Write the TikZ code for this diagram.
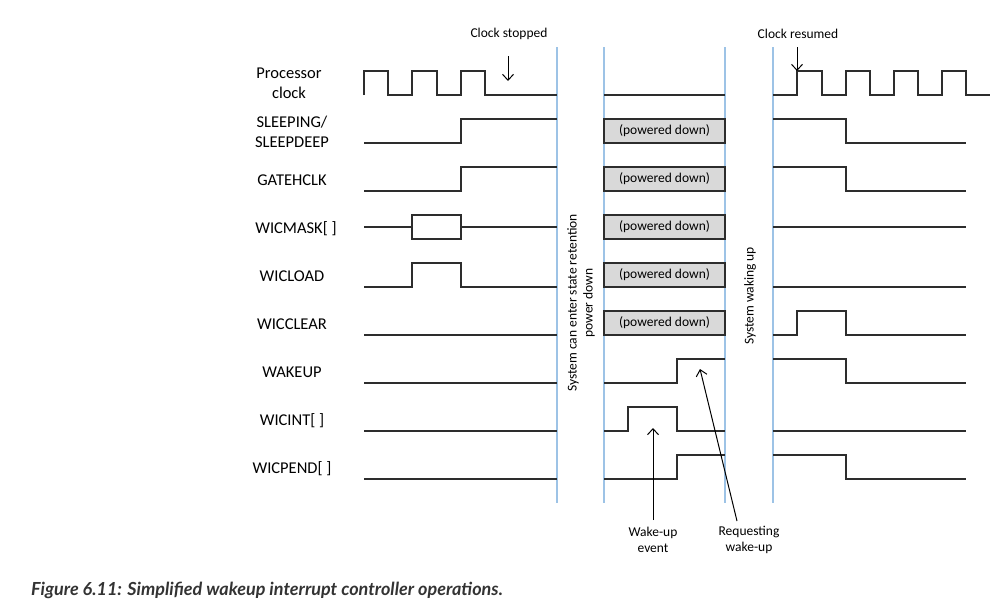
\documentclass[tikz,border=0pt]{standalone}
\usepackage{fontspec}
\setmainfont{Carlito}
\newfontfamily\capfont{Lato}
\usetikzlibrary{arrows.meta, positioning}
\definecolor{wavegray}{RGB}{45, 45, 45}
\definecolor{sepblue}{RGB}{157, 195, 230}
\definecolor{boxgray}{RGB}{217, 217, 217}
\definecolor{captiongray}{RGB}{51, 51, 51}
\tikzset{
  wave/.style={line width=1.3pt, color=wavegray},
  sepline/.style={line width=1.8pt, color=sepblue},
  siglabel/.style={font=\fontsize{16.5}{20}\selectfont, align=center, inner sep=0pt},
  note/.style={font=\fontsize{13.5}{16}\selectfont, align=center, inner sep=0pt},
  pdbox/.style={rectangle, draw=wavegray, fill=boxgray, line width=1.3pt,
              minimum width=121pt, minimum height=24pt, inner sep=0pt,
              font=\fontsize{13.5}{16}\selectfont},
  pointer/.style={-{Straight Barb[length=6pt, width=11pt]}, line width=1pt, color=black},
}

\begin{document}
\begin{tikzpicture}[x=1pt, y=-1pt]
  \useasboundingbox (0,0) rectangle (1001,603);
  % Phase separators
  \foreach \bx in {557,604,725,773}{
    \draw[sepline] (\bx,47) -- (\bx,503);
  }
  % Signal labels
  \node[siglabel] (lblclk) at (289,83) {Processor\\clock};
  \node[siglabel] (lblsleep) at (292,131.5) {SLEEPING/\\SLEEPDEEP};
  \node[siglabel, anchor=base] (lblgate) at (292,185) {GATEHCLK};
  \node[siglabel, anchor=base] (lblmask) at (296,233) {WICMASK[ ]};
  \node[siglabel, anchor=base] (lblload) at (292,281) {WICLOAD};
  \node[siglabel, anchor=base] (lblclear) at (292,329) {WICCLEAR};
  \node[siglabel, anchor=base] (lblwake) at (292,377) {WAKEUP};
  \node[siglabel, anchor=base] (lblint) at (292,425) {WICINT[ ]};
  \node[siglabel, anchor=base] (lblpend) at (292,473) {WICPEND[ ]};
  % Processor clock
  \draw[wave] (364,95) -- (364,71) -- (388,71) -- (388,95) -- (412,95) -- (412,71)
    -- (437,71) -- (437,95) -- (461,95) -- (461,71) -- (485,71) -- (485,95) -- (557,95);
  \draw[wave] (604,95) -- (725,95);
  \draw[wave] (773,95) -- (797,95) -- (797,71) -- (822,71) -- (822,95) -- (846,95)
    -- (846,71) -- (870,71) -- (870,95) -- (894,95) -- (894,71) -- (918,71) -- (918,95)
    -- (942,95) -- (942,71) -- (966,71) -- (966,95) -- (990,95);
  % SLEEPING/SLEEPDEEP
  \draw[wave] (364,143) -- (461,143) -- (461,119) -- (557,119);
  \draw[wave] (773,119) -- (846,119) -- (846,143) -- (966,143);
  % GATEHCLK
  \draw[wave] (364,191) -- (461,191) -- (461,167) -- (557,167);
  \draw[wave] (773,167) -- (846,167) -- (846,191) -- (966,191);
  % WICMASK[ ]
  \draw[wave] (364,227) -- (412,227);
  \draw[wave] (412,215) rectangle (461,239);
  \draw[wave] (461,227) -- (557,227);
  \draw[wave] (773,227) -- (966,227);
  % WICLOAD
  \draw[wave] (364,287) -- (412,287) -- (412,263) -- (461,263) -- (461,287) -- (557,287);
  \draw[wave] (773,287) -- (966,287);
  % WICCLEAR
  \draw[wave] (364,335) -- (557,335);
  \draw[wave] (773,335) -- (797,335) -- (797,311) -- (846,311) -- (846,335) -- (966,335);
  % WAKEUP
  \draw[wave] (364,383) -- (557,383);
  \draw[wave] (604,383) -- (677,383) -- (677,359) -- (725,359);
  \draw[wave] (773,359) -- (846,359) -- (846,383) -- (966,383);
  % WICINT[ ]
  \draw[wave] (364,431) -- (557,431);
  \draw[wave] (604,431) -- (628,431) -- (628,407) -- (677,407) -- (677,431) -- (725,431);
  \draw[wave] (773,431) -- (966,431);
  % WICPEND[ ]
  \draw[wave] (364,479) -- (557,479);
  \draw[wave] (604,479) -- (677,479) -- (677,455) -- (725,455);
  \draw[wave] (773,455) -- (846,455) -- (846,479) -- (966,479);
  % Powered down blocks
  \foreach \py in {119,167,215,263,311}{
    \node[pdbox] (pd\py) at (664.5,\py+12) {(powered down)};
  }
  % Phase notes
  \node[note, rotate=90] (retnote) at (581,303) {System can enter state retention\\power down};
  \node[note, rotate=90] (wakenote) at (750,296) {System waking up};
  % Clock annotations
  \node[note] (stoptxt) at (509,34) {Clock stopped};
  \coordinate (stoptail) at (508,56);
  \coordinate (stoptip) at (508,81);
  \draw[pointer] (stoptail) -- (stoptip);
  \node[note] (resumetxt) at (798,34) {Clock resumed};
  \coordinate (resumetail) at (797,47);
  \coordinate (resumetip) at (797,71);
  \draw[pointer] (resumetail) -- (resumetip);
  % Wake-up annotations
  \node[note] (eventtxt) at (653,540) {Wake-up\\event};
  \coordinate (eventtail) at (653,520);
  \coordinate (eventtip) at (653,428);
  \draw[pointer] (eventtail) -- (eventtip);
  \node[note] (reqtxt) at (749,540) {Requesting\\wake-up};
  \coordinate (reqtail) at (737,521);
  \coordinate (reqtip) at (700,369);
  \draw[pointer] (reqtail) -- (reqtip);
  % Caption
  \node[anchor=base west, inner sep=0pt, text=captiongray,
        font=\capfont\bfseries\itshape\fontsize{18}{20}\selectfont] (caption) at (31,595)
        {Figure 6.11: Simplified wakeup interrupt controller operations.};
\end{tikzpicture}
\end{document}
